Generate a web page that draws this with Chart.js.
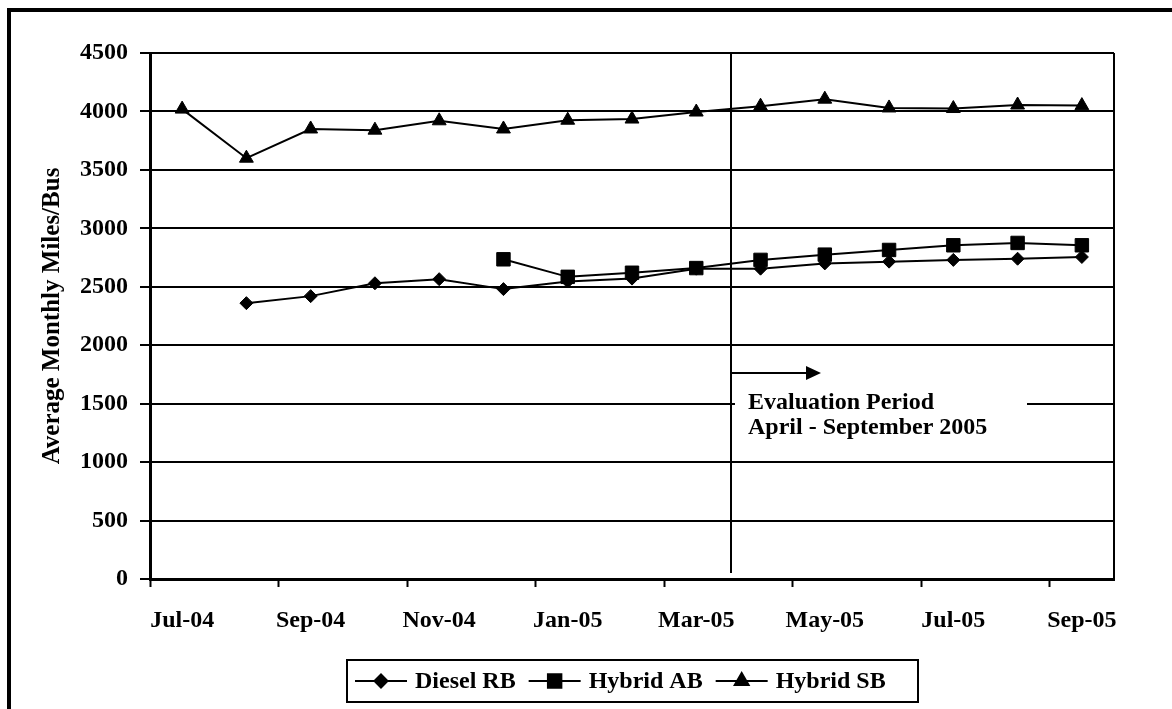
<!DOCTYPE html>
<html lang="en">
<head>
  <meta charset="UTF-8" />
  <title>Average Monthly Miles/Bus</title>
  <script src="https://cdn.jsdelivr.net/npm/chart.js"></script>
  <style>
    body {
      margin: 0;
      background: #fff;
    }
    canvas {
      display: block;
    }
  </style>
</head>
<body>
  <canvas id="milesChart" width="1172" height="709"></canvas>

  <script>
    const months = ['Jul-04', 'Aug-04', 'Sep-04', 'Oct-04', 'Nov-04', 'Dec-04', 'Jan-05', 'Feb-05',
      'Mar-05', 'Apr-05', 'May-05', 'Jun-05', 'Jul-05', 'Aug-05', 'Sep-05'];
    const dieselRB = [null, 2360, 2420, 2530, 2565, 2480, 2545, 2570, 2655, 2655, 2700, 2715, 2730, 2740, 2755];
    const hybridAB = [null, null, null, null, null, 2735, 2585, 2620, 2660, 2730, 2775, 2815, 2855, 2875, 2855];
    const hybridSB = [4020, 3600, 3850, 3840, 3920, 3850, 3925, 3935, 3995, 4045, 4105, 4030, 4025, 4055, 4050];
    const yTicks = [0, 500, 1000, 1500, 2000, 2500, 3000, 3500, 4000, 4500];

    const FONT = '"Liberation Serif", "Times New Roman", serif';

    function series(label, data, style, radius, order) {
      return {
        label: label,
        data: data,
        borderColor: '#000',
        backgroundColor: '#000',
        borderWidth: 2,
        pointStyle: style,
        pointRadius: radius,
        pointHoverRadius: radius,
        pointBackgroundColor: '#000',
        pointBorderColor: '#000',
        pointBorderWidth: 1,
        tension: 0,
        order: order
      };
    }

    // frame, right border, evaluation marker and the boxed legend
    const extras = {
      id: 'extras',
      beforeDraw(chart) {
        const ctx = chart.ctx;
        ctx.save();
        ctx.fillStyle = '#000';
        ctx.fillRect(7, 8, 4, chart.height);
        ctx.fillRect(7, 8, chart.width, 4);
        ctx.restore();
      },
      beforeDatasetsDraw(chart) {
        const ctx = chart.ctx;
        const a = chart.chartArea;
        ctx.save();
        ctx.strokeStyle = '#000';
        ctx.lineWidth = 2;
        ctx.beginPath();
        ctx.moveTo(a.right, a.top);
        ctx.lineTo(a.right, a.bottom);
        ctx.stroke();

        const x = chart.scales.x;
        const y = chart.scales.y;
        const lx = Math.round(x.getPixelForValue(8.54));
        ctx.beginPath();
        ctx.moveTo(lx, a.top);
        ctx.lineTo(lx, a.bottom - 6);
        ctx.stroke();

        // arrow
        const ay = Math.round(y.getPixelForValue(1760));
        ctx.beginPath();
        ctx.moveTo(lx, ay);
        ctx.lineTo(lx + 76, ay);
        ctx.stroke();
        ctx.fillStyle = '#000';
        ctx.beginPath();
        ctx.moveTo(lx + 90, ay);
        ctx.lineTo(lx + 75, ay - 7);
        ctx.lineTo(lx + 75, ay + 7);
        ctx.closePath();
        ctx.fill();

        // text box
        ctx.fillStyle = '#fff';
        ctx.fillRect(lx + 4, ay + 13, 292, 56);
        ctx.fillStyle = '#000';
        ctx.font = 'bold 24px ' + FONT;
        ctx.textAlign = 'left';
        ctx.textBaseline = 'middle';
        ctx.fillText('Evaluation Period', lx + 17, ay + 30);
        ctx.fillText('April - September 2005', lx + 17, ay + 55);
        ctx.restore();
      },
      afterDraw(chart) {
        const ctx = chart.ctx;
        ctx.save();
        ctx.strokeStyle = '#000';
        ctx.lineWidth = 2;
        ctx.strokeRect(347, 660, 571, 42);
        ctx.font = 'bold 24px ' + FONT;
        ctx.textAlign = 'left';
        ctx.textBaseline = 'middle';
        ctx.fillStyle = '#000';
        let lx = 355;
        const ly = 681;
        chart.data.datasets.forEach(ds => {
          ctx.beginPath();
          ctx.moveTo(lx, ly);
          ctx.lineTo(lx + 52, ly);
          ctx.lineWidth = 2;
          ctx.stroke();
          Chart.helpers.drawPoint(ctx, {
            pointStyle: ds.pointStyle,
            radius: ds.pointRadius,
            rotation: 0,
            borderWidth: 1
          }, lx + 26, ly);
          ctx.fill();
          ctx.fillText(ds.label, lx + 60, ly + 1);
          lx += 60 + ctx.measureText(ds.label).width + 13;
        });
        ctx.restore();
      }
    };

    new Chart(document.getElementById('milesChart'), {
      type: 'line',
      data: {
        labels: months,
        datasets: [
          series('Diesel RB', dieselRB, 'rectRot', 6.5, 2),
          series('Hybrid AB', hybridAB, 'rect', 9.5, 1),
          series('Hybrid SB', hybridSB, 'triangle', 8, 0)
        ]
      },
      options: {
        responsive: false,
        animation: false,
        devicePixelRatio: 1,
        layout: { padding: { left: 0, top: 53, right: 58, bottom: 0 } },
        plugins: {
          legend: { display: false },
          tooltip: { enabled: false }
        },
        scales: {
          x: {
            type: 'category',
            offset: true,
            grid: {
              offset: true,
              drawOnChartArea: false,
              drawTicks: true,
              tickLength: 8,
              tickWidth: 2,
              tickColor: ctx => (ctx.index % 2 === 0 ? '#000' : 'rgba(0,0,0,0)')
            },
            border: { color: '#000', width: 3 },
            ticks: {
              autoSkip: false,
              maxRotation: 0,
              padding: 19,
              color: '#000',
              font: { family: FONT, size: 24, weight: 'bold' },
              callback: function (val, i) {
                return i % 2 === 0 ? this.getLabelForValue(val) : '';
              }
            },
            afterFit(scale) {
              scale.height = 130;
              scale.paddingLeft = 0;
              scale.paddingRight = 0;
            }
          },
          y: {
            min: 0,
            max: 4500,
            afterBuildTicks(scale) {
              scale.ticks = yTicks.map(v => ({ value: v }));
            },
            grid: {
              color: '#000',
              lineWidth: 2,
              drawTicks: true,
              tickLength: 10,
              tickWidth: 2,
              tickColor: '#000'
            },
            border: { color: '#000', width: 3 },
            ticks: {
              padding: 12,
              color: '#000',
              font: { family: FONT, size: 24, weight: 'bold' },
              callback: v => String(v)
            },
            title: {
              display: true,
              text: 'Average Monthly Miles/Bus',
              color: '#000',
              font: { family: FONT, size: 25, weight: 'bold' },
              padding: { top: 38, bottom: 0 }
            },
            afterFit(scale) {
              scale.width = 150;
            }
          }
        }
      },
      plugins: [extras]
    });
  </script>
</body>
</html>
